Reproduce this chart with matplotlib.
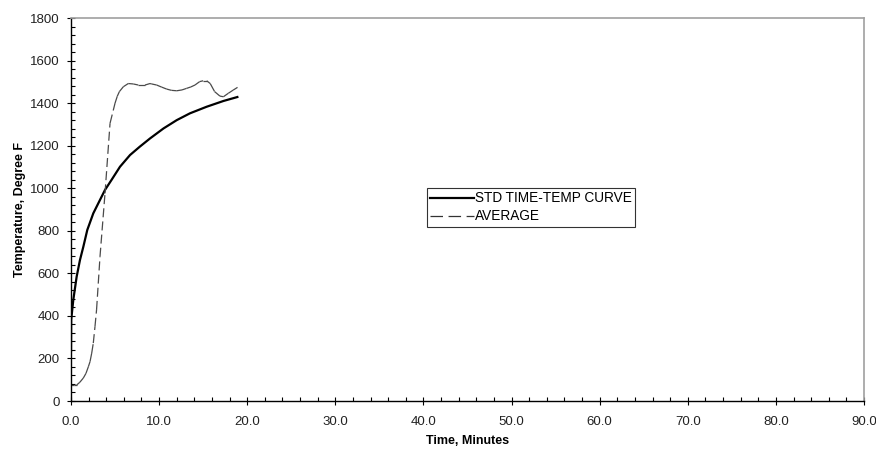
import matplotlib
matplotlib.use("Agg")
import matplotlib.pyplot as plt
from matplotlib.collections import LineCollection
from matplotlib.lines import Line2D
from matplotlib.ticker import MultipleLocator, FormatStrFormatter
import numpy as np

plt.rcParams['font.family'] = ['Liberation Sans', 'DejaVu Sans']
plt.rcParams['lines.scale_dashes'] = False

# STD TIME-TEMP CURVE
std_time = [0.0, 0.02, 0.26, 0.64, 1.02, 1.4, 1.85, 2.53, 3.29, 3.86, 4.6, 5.56,
            6.7, 7.8, 8.97, 10.5, 12.0, 13.5, 15.4, 17.3, 19.0]
std_temp = [230, 381, 475, 584, 663, 725, 804, 882, 945, 992, 1039, 1101,
            1156, 1195, 1234, 1281, 1320, 1352, 1383, 1410, 1430]

# AVERAGE
avg_time = [0.0, 0.3, 0.64, 1.0, 1.4, 1.7, 1.97, 2.16, 2.35, 2.53, 2.72, 2.9,
            3.29, 3.86, 4.43, 5.0, 5.25, 5.49, 5.94, 6.5, 7.07, 7.64, 8.4,
            8.97, 9.16, 9.72, 10.3, 10.86, 11.4, 12.0, 12.6, 13.1, 13.6,
            14.07, 14.6, 15.0, 15.4, 15.8, 16.3, 16.9, 17.3, 17.85, 18.4, 18.9]
avg_temp = [75, 75, 75, 88, 108, 130, 161, 185, 225, 272, 349, 428,
            678, 976, 1305, 1400, 1432, 1454, 1477, 1492, 1490, 1485, 1485,
            1492, 1490, 1485, 1475, 1466, 1460, 1458, 1462, 1469, 1476,
            1485, 1501, 1505, 1505, 1492, 1454, 1433, 1430, 1446, 1461, 1474]

x_ticks = [0, 10, 20, 30, 40, 50, 60, 70, 80, 90]
y_ticks = [0, 200, 400, 600, 800, 1000, 1200, 1400, 1600, 1800]

W, H = 876, 449
fig = plt.figure(figsize=(W / 100, H / 100), dpi=100)
ax = fig.add_axes([71 / W, (H - 401) / H, (864 - 71) / W, (401 - 18) / H])

ax.plot(std_time, std_temp, color='black', lw=1.6, solid_capstyle='butt')

pts = np.column_stack([avg_time, avg_temp])
segs = [pts[i:i + 2] for i in range(len(pts) - 1)]
avg_color = '#4a4a4a'
lc = LineCollection(segs, colors=avg_color, linewidths=0.9,
                    linestyles=[(0, (6.5, 3.0))])
ax.add_collection(lc)

ax.set_xlim(0, 90)
ax.set_ylim(0, 1800)
ax.set_xticks(x_ticks)
ax.set_yticks(y_ticks)
ax.xaxis.set_major_formatter(FormatStrFormatter('%.1f'))
ax.xaxis.set_minor_locator(MultipleLocator(2))
ax.yaxis.set_minor_locator(MultipleLocator(40))
ax.tick_params(which='major', direction='inout', length=6, width=0.8,
               labelsize=9.5, colors='black')
ax.tick_params(axis='x', which='major', pad=8)
ax.tick_params(axis='y', which='major', pad=5)
ax.tick_params(which='minor', direction='in', length=3, width=0.8)
for lab in ax.get_xticklabels() + ax.get_yticklabels():
    lab.set_color('#222222')

for s in ['top', 'right']:
    ax.spines[s].set_color('#a0a0a0')
    ax.spines[s].set_linewidth(1.2)
for s in ['left', 'bottom']:
    ax.spines[s].set_color('black')
    ax.spines[s].set_linewidth(1.0)

ax.set_xlabel('Time, Minutes', fontsize=9, fontweight='bold', labelpad=5)
ax.set_ylabel('Temperature, Degree F', fontsize=9, fontweight='bold', labelpad=3)

handles = [Line2D([], [], color='black', lw=1.6),
           Line2D([], [], color='#333333', lw=0.9, dashes=(9, 4))]
leg = ax.legend(handles, ['STD TIME-TEMP CURVE', 'AVERAGE'],
                loc='upper left',
                bbox_to_anchor=(427 / W, (H - 188) / H),
                bbox_transform=fig.transFigure,
                fontsize=9.8, frameon=True, fancybox=False, shadow=False,
                handlelength=3.2, handletextpad=0.05, borderpad=0.25,
                labelspacing=0.3, borderaxespad=0)
leg.get_frame().set_edgecolor('black')
leg.get_frame().set_linewidth(0.8)

fig.savefig('out.png', dpi=100)
